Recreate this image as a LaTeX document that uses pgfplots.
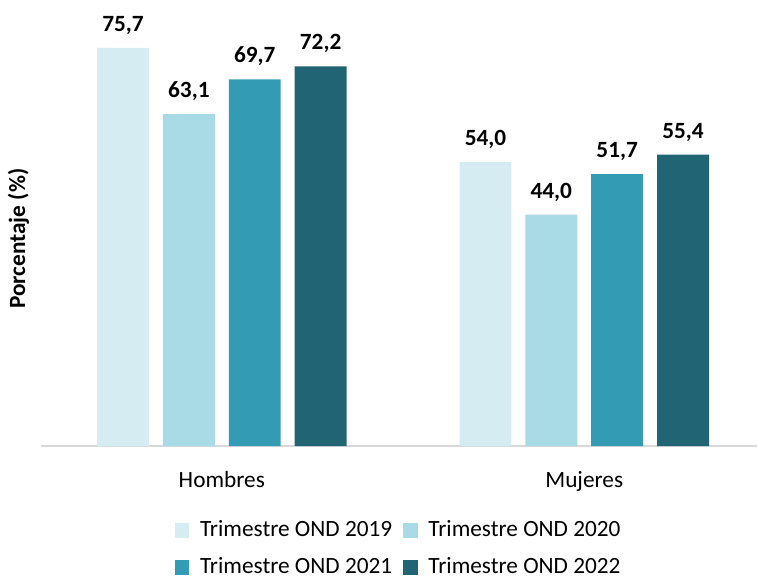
\documentclass[border=0pt]{standalone}
\usepackage{pgfplots}
\pgfplotsset{compat=1.18}
\usepackage{fontspec}
\setmainfont{Carlito}
\definecolor{cA}{HTML}{D4ECF2}
\definecolor{cB}{HTML}{A9DBE6}
\definecolor{cC}{HTML}{339BB3}
\definecolor{cD}{HTML}{216473}
\begin{document}
\fontsize{17.5}{21}\selectfont
\begin{tikzpicture}
\begin{axis}[
  scale only axis,
  width=538.5pt, height=335.25pt,
  ybar, ymin=0, ymax=84.8,
  xmin=-0.5, xmax=1.477,
  xtick=data, xticklabels={Hombres,Mujeres},
  xtick style={draw=none},
  ytick=\empty,
  axis x line*=bottom,
  axis y line*=left,
  y axis line style={draw=none},
  x axis line style={-, draw=black!15, line width=1.3pt},
  xticklabel style={font=\fontsize{17.5}{21}\selectfont, yshift=-9pt},
  ylabel={\bfseries Porcentaje (\%)},
  ylabel style={at={(axis description cs:-0.031,0.465)}, anchor=center, font=\fontsize{17.5}{21}\selectfont},
  bar width=39pt,
  nodes near coords,
  every node near coord/.append style={font=\fontsize{17.5}{21}\selectfont\bfseries, yshift=4pt},
  /pgf/number format/.cd, use comma, fixed, fixed zerofill, precision=1, assume math mode=true,
  /pgfplots/.cd,
  legend columns=2,
  legend style={at={(axis description cs:0.5,0)}, anchor=north, yshift=-52pt, draw=none, font=\fontsize{17.5}{21}\selectfont, column sep=6pt, row sep=9pt},
  legend image code/.code={\fill[#1] (0pt,-5.6pt) rectangle (11.2pt,5.6pt);},
]
\addplot[fill=cA, draw=none, bar shift=-74.25pt] coordinates {(0,75.7) (1,54.0)};
\addplot[fill=cB, draw=none, bar shift=-24.75pt] coordinates {(0,63.1) (1,44.0)};
\addplot[fill=cC, draw=none, bar shift=24.75pt] coordinates {(0,69.7) (1,51.7)};
\addplot[fill=cD, draw=none, bar shift=74.25pt] coordinates {(0,72.2) (1,55.4)};
\legend{Trimestre OND 2019, Trimestre OND 2020, Trimestre OND 2021, Trimestre OND 2022}
\end{axis}
\end{tikzpicture}
\end{document}
